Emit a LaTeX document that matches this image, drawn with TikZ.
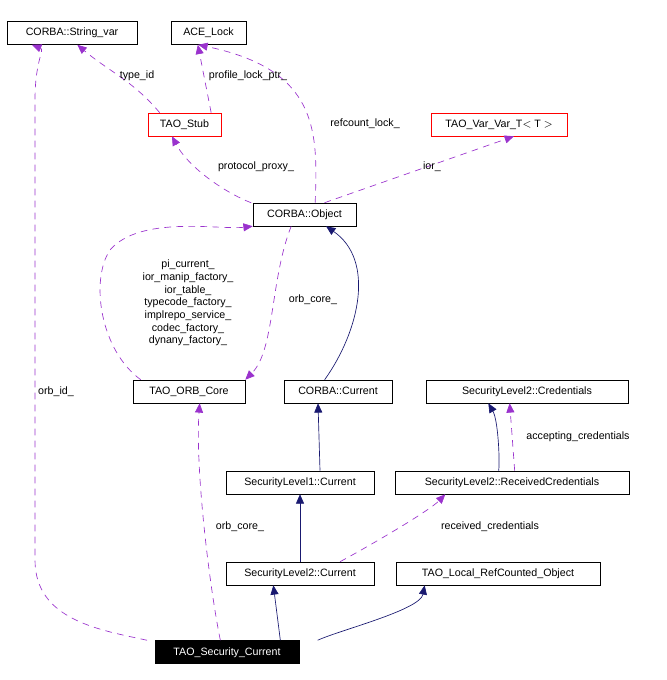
\documentclass[tikz,border=0pt]{standalone}
\usepackage{fontspec}
\setmainfont{Liberation Sans}
\usetikzlibrary{arrows.meta}
\begin{document}
\begin{tikzpicture}[x=0.75pt,y=-0.75pt,font=\fontsize{8}{9.5}\selectfont,
 box/.style={draw,fill=white,inner sep=0pt,minimum height=17.25pt,text height=6pt,text depth=1.5pt},
 red/.style={box,draw=red},
 inh/.style={draw={rgb,255:red,25;green,25;blue,112},-{Triangle[length=7pt,width=6pt]},line width=0.5pt},
 use/.style={draw={rgb,255:red,154;green,50;blue,205},dash pattern=on 5pt off 4pt,-{Triangle[length=7pt,width=6pt]},line width=0.5pt},
 lbl/.style={inner sep=1pt,align=center}]
\useasboundingbox (0,0) rectangle (666,680);
\node[box,minimum width=97.5pt] (sv) at (72,33) {CORBA::String\_var};
\node[box,minimum width=56.25pt] (lock) at (208.5,33) {ACE\_Lock};
\node[red,minimum width=54.75pt] (stub) at (184.5,124.5) {TAO\_Stub};
\node[red,minimum width=102pt] (vv) at (499,124.5) {TAO\_Var\_Var\_T$<$ T $>$};
\node[box,minimum width=77.25pt] (obj) at (304.5,214.5) {CORBA::Object};
\node[box,minimum width=84pt] (orb) at (189,391.5) {TAO\_ORB\_Core};
\node[box,minimum width=81pt] (cur) at (338,391.5) {CORBA::Current};
\node[box,minimum width=151.5pt] (cred) at (527,391.5) {SecurityLevel2::Credentials};
\node[box,minimum width=111pt] (s1) at (300,482.5) {SecurityLevel1::Current};
\node[box,minimum width=175.5pt] (rc) at (512,482.5) {SecurityLevel2::ReceivedCredentials};
\node[box,minimum width=111pt] (s2) at (300,573.5) {SecurityLevel2::Current};
\node[box,minimum width=153pt] (lrc) at (498,573.5) {TAO\_Local\_RefCounted\_Object};
\node[box,fill=black,text=white,minimum width=108pt] (tsc) at (227,652) {TAO\_Security\_Current};

\draw[use] (stub.north west)++(12,0) to[out=130,in=-40] ([xshift=-45]sv.south east);
\draw[use] ([xshift=20]stub.north) -- ([xshift=-8]lock.south);
\draw[use] ([xshift=8]obj.north) .. controls (318,130) and (318,70) .. ([xshift=-36]lock.south east) ;
\draw[use] ([xshift=-40]obj.north) .. controls (230,195) and (190,170) .. ([xshift=-37]stub.south east);
\draw[use] ([xshift=15]obj.north) -- ([xshift=-40]vv.south east);
\draw[use] (orb.north west)++(8,0) .. controls (100,350) and (90,280) .. (110,250) .. controls (140,215) and (220,230) .. (obj.west|-obj.south);
\draw[use] ([xshift=-10]obj.south) .. controls (270,280) and (275,350) .. (orb.north east);
\draw[inh] ([xshift=-10]cur.north) .. controls (360,330) and (375,260) .. ([xshift=55]obj.south west);
\draw[inh] (s1.north) ++(20,0) -- ([xshift=-15]cur.south);
\draw[inh] ([xshift=-10]rc.north) .. controls (500,460) and (498,420) .. ([xshift=-29]cred.south);
\draw[use] ([xshift=2]rc.north) -- ([xshift=-13]cred.south);
\draw[inh] (s2.north) -- (s1.south);
\draw[inh] ([xshift=40]tsc.north) -- ([xshift=-20]s2.south);
\draw[inh] ([xshift=68]tsc.north) .. controls (340,630) and (420,610) .. ([xshift=-55]lrc.south);
\draw[use] ([xshift=-5]tsc.north) .. controls (210,590) and (195,470) .. ([xshift=8]orb.south);
\draw[use] ([xshift=30]s2.north) .. controls (380,540) and (430,510) .. ([xshift=-50]rc.south);
\draw[use] ([xshift=-60]tsc.north) .. controls (100,630) and (35,620) .. (35,560) -- (35,100) .. controls (35,60) and (45,50) .. ([xshift=-30]sv.south);

\node[lbl] (l1) at (137,76) {type\_id};
\node[lbl] (l2) at (248,76) {profile\_lock\_ptr\_};
\node[lbl] (l3) at (365,124) {refcount\_lock\_};
\node[lbl] (l4) at (256,167) {protocol\_proxy\_};
\node[lbl] (l5) at (432,167) {ior\_};
\node[lbl] (l6) at (188,303) {pi\_current\_\\ior\_manip\_factory\_\\ior\_table\_\\typecode\_factory\_\\implrepo\_service\_\\codec\_factory\_\\dynany\_factory\_};
\node[lbl] (l7) at (313,300) {orb\_core\_};
\node[lbl] (l8) at (578,437) {accepting\_credentials};
\node[lbl] (l9) at (240,527) {orb\_core\_};
\node[lbl] (l10) at (490,527) {received\_credentials};
\node[lbl] (l11) at (56,392) {orb\_id\_};
\end{tikzpicture}
\end{document}
